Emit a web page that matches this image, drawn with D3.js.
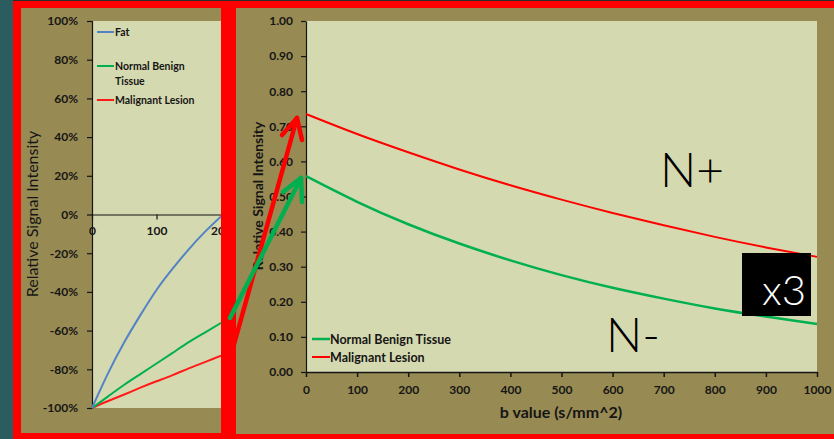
<!DOCTYPE html>
<html><head><meta charset="utf-8">
<script src="https://cdn.jsdelivr.net/npm/d3@7"></script>
<style>body{margin:0;background:#2b5c5f;} svg{display:block;} text{font-family:Lato,"Open Sans",sans-serif;}</style>
</head><body>
<svg id="c" width="834" height="439"></svg>
<script>
// ---- Left chart (inversion recovery, cropped) ----
const leftB = [0, 25, 50, 75, 100, 125, 150, 175, 200];
const leftFat = [-100, -82, -66, -52, -39, -28, -18, -9, -1];
const leftBenign = [-100, -94, -88, -82.5, -77, -71.5, -66, -61, -56];
const leftMalignant = [-100, -96.4, -93, -89.5, -86.2, -83, -79.5, -76.3, -73];
const leftYTicks = [100, 80, 60, 40, 20, 0, -20, -40, -60, -80, -100];
const leftXTicks = [0, 100, 200];
const leftLegend = ["Fat", "Normal Benign|Tissue", "Malignant Lesion"];

// ---- Right chart (diffusion decay) ----
const bValues = [0, 100, 200, 300, 400, 500, 600, 700, 800, 900, 1000];
const benign = [0.558, 0.485, 0.421, 0.366, 0.318, 0.276, 0.240, 0.209, 0.181, 0.158, 0.137];
const malignant = [0.735, 0.678, 0.626, 0.577, 0.532, 0.491, 0.453, 0.418, 0.385, 0.355, 0.328];
const rightYTicks = [0, 0.1, 0.2, 0.3, 0.4, 0.5, 0.6, 0.7, 0.8, 0.9, 1.0];
const rightXTicks = [0, 100, 200, 300, 400, 500, 600, 700, 800, 900, 1000];
const rightLegend = ["Normal Benign Tissue", "Malignant Lesion"];

const C = {teal:"#2b5c5f", red:"#ff0000", olive:"#978a53", plot:"#d5d9b0", text:"#151515",
  fat:"#5283c4", green:"#00b050", mal:"#ff1a1a"};

const svg = d3.select("#c");
svg.append("rect").attr("width",834).attr("height",439).attr("fill",C.teal);
svg.append("rect").attr("x",13).attr("y",0).attr("width",821).attr("height",1).attr("fill","#2a2a2a");

// panels
svg.append("rect").attr("x",13).attr("y",1).attr("width",210).attr("height",438).attr("fill",C.red);
svg.append("rect").attr("x",21).attr("y",8).attr("width",200).attr("height",425).attr("fill",C.olive);
svg.append("rect").attr("x",221).attr("y",1).attr("width",613).attr("height",438).attr("fill",C.red);
svg.append("rect").attr("x",236).attr("y",8).attr("width",598).attr("height",426).attr("fill",C.olive);

// ---------- LEFT ----------
svg.append("clipPath").attr("id","lc").append("rect").attr("x",21).attr("y",8).attr("width",200).attr("height",425);
const L = svg.append("g").attr("clip-path","url(#lc)");
const lx = d3.scaleLinear().domain([0,200]).range([92,221]);
const ly = d3.scaleLinear().domain([-100,100]).range([408,21]);
L.append("rect").attr("x",92).attr("y",21).attr("width",140).attr("height",387).attr("fill",C.plot);

const lyAxis = L.append("g").attr("transform","translate(92,0)")
  .call(d3.axisLeft(ly).tickValues(leftYTicks).tickSize(5).tickFormat(d=>d+"%"));
lyAxis.selectAll("text").attr("font-size",12).attr("font-weight","bold").attr("fill",C.text).attr("x",-14);
lyAxis.selectAll("line,path").attr("stroke",C.text).attr("stroke-width",1.2);

const lxAxis = L.append("g").attr("transform",`translate(0,${ly(0)})`)
  .call(d3.axisBottom(lx).tickValues(leftXTicks).tickSize(5).tickSizeOuter(0));
lxAxis.selectAll("text").attr("font-size",12).attr("font-weight","bold").attr("fill",C.text).attr("y",12);
lxAxis.selectAll("line,path").attr("stroke",C.text).attr("stroke-width",1.2);

const lline = d3.line().x((d,i)=>lx(leftB[i])).y(d=>ly(d)).curve(d3.curveNatural);
[[leftMalignant,C.mal],[leftBenign,C.green],[leftFat,C.fat]].forEach(([s,c])=>{
  L.append("path").attr("d",lline(s)).attr("fill","none").attr("stroke",c).attr("stroke-width",2);
});
// left legend
const legL = [[C.fat,32],[C.green,66],[C.mal,100]];
leftLegend.forEach((t,i)=>{
  const y = legL[i][1];
  L.append("line").attr("x1",97).attr("x2",114).attr("y1",y).attr("y2",y).attr("stroke",legL[i][0]).attr("stroke-width",2);
  t.split("|").forEach((p,j)=>{
    L.append("text").attr("x",115).attr("y",y+3.5+j*15).attr("font-size",10.5).attr("font-weight","bold").attr("fill",C.text).text(p);
  });
});
svg.append("text").attr("transform","translate(38,214) rotate(-90)").attr("text-anchor","middle")
  .attr("font-size",16).attr("font-weight","normal").attr("fill",C.text).text("Relative Signal Intensity");

// ---------- RIGHT ----------
const rx = d3.scaleLinear().domain([0,1000]).range([306,817]);
const ry = d3.scaleLinear().domain([0,1]).range([372,21]);
svg.append("rect").attr("x",306).attr("y",21).attr("width",511).attr("height",351).attr("fill",C.plot);

const ryAxis = svg.append("g").attr("transform","translate(306,0)")
  .call(d3.axisLeft(ry).tickValues(rightYTicks).tickSize(5).tickSizeOuter(0).tickFormat(d3.format(".2f")));
ryAxis.selectAll("text").attr("font-size",12).attr("font-weight","bold").attr("fill",C.text).attr("x",-13);
ryAxis.selectAll("line,path").attr("stroke",C.text).attr("stroke-width",1.2);
const rxAxis = svg.append("g").attr("transform","translate(0,372)")
  .call(d3.axisBottom(rx).tickValues(rightXTicks).tickSize(5).tickSizeOuter(0).tickFormat(d3.format("d")));
rxAxis.selectAll("text").attr("font-size",12).attr("font-weight","bold").attr("fill",C.text).attr("y",13);
rxAxis.selectAll("line,path").attr("stroke",C.text).attr("stroke-width",1.5);

const rline = d3.line().x((d,i)=>rx(bValues[i])).y(d=>ry(d)).curve(d3.curveNatural);
svg.append("path").attr("d",rline(benign)).attr("fill","none").attr("stroke",C.green).attr("stroke-width",2.5);
svg.append("path").attr("d",rline(malignant)).attr("fill","none").attr("stroke",C.red).attr("stroke-width",2);

const legR = [[C.green,339,2.5],[C.red,357,2]];
rightLegend.forEach((t,i)=>{
  const y = legR[i][1];
  svg.append("line").attr("x1",312).attr("x2",330).attr("y1",y).attr("y2",y).attr("stroke",legR[i][0]).attr("stroke-width",legR[i][2]);
  svg.append("text").attr("x",330).attr("y",y+4.5).attr("font-size",12.5).attr("font-weight","bold").attr("fill",C.text).text(t);
});
svg.append("text").attr("x",561).attr("y",418).attr("text-anchor","middle").attr("font-size",16)
  .attr("font-weight","bold").attr("fill",C.text).text("b value (s/mm^2)");
svg.append("text").attr("transform","translate(263,196) rotate(-90)").attr("text-anchor","middle")
  .attr("font-size",14).attr("font-weight","bold").attr("fill",C.text).text("Relative Signal Intensity");

// annotations
svg.append("text").attr("x",660).attr("y",187).attr("font-size",48).attr("font-weight",300)
  .attr("font-family","'Open Sans',sans-serif").attr("fill","#000").text("N+");
svg.append("text").attr("x",606).attr("y",352).attr("font-size",48).attr("font-weight",300)
  .attr("font-family","'Open Sans',sans-serif").attr("fill","#000").text("N-");
svg.append("rect").attr("x",742).attr("y",253).attr("width",69).attr("height",63).attr("fill","#000");
svg.append("text").attr("x",806).attr("y",305).attr("text-anchor","end").attr("font-size",42).attr("font-weight",300)
  .attr("font-family","'Open Sans',sans-serif").attr("fill","#fff").text("x3");

// arrows
function arrow(col, pts){
  const g = svg.append("g").attr("fill","none").attr("stroke",col).attr("stroke-width",4.5).attr("stroke-linecap","round").attr("stroke-linejoin","round");
  g.append("path").attr("d",d3.line()(pts.shaft));
  g.append("path").attr("d",d3.line()(pts.head));
}
arrow(C.red,{shaft:[[233,348],[297,118]], head:[[282,135],[297,118],[302,140]]});
arrow(C.green,{shaft:[[230,318],[301,178]], head:[[283,192],[301,178],[302,202]]});
</script>
</body></html>
